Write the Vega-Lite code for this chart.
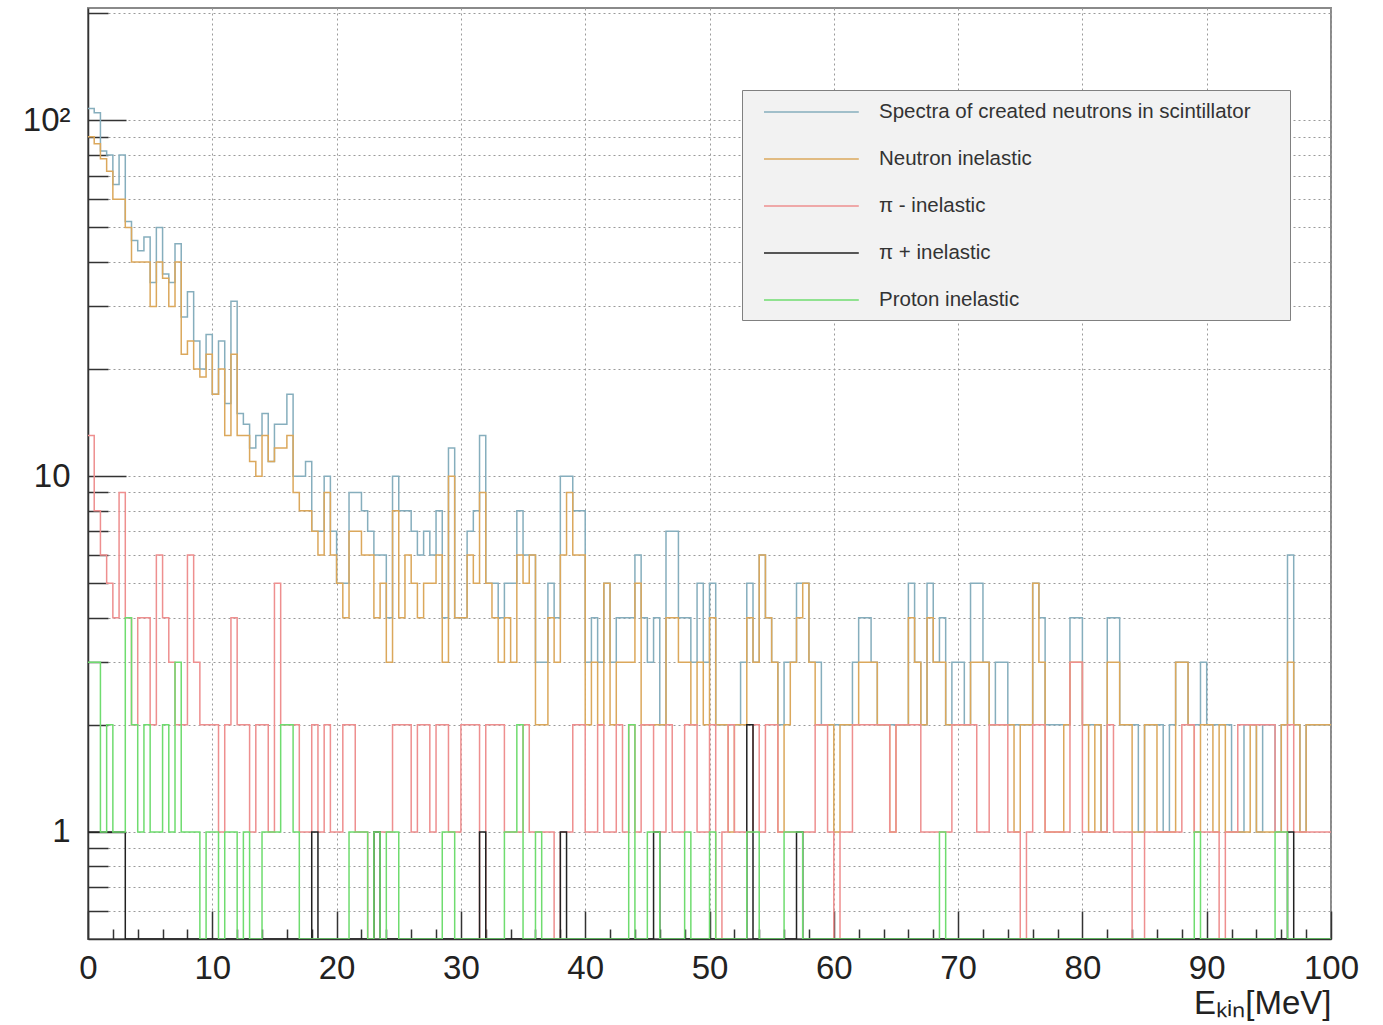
{
  "$schema": "https://vega.github.io/schema/vega-lite/v6.json",
  "autosize": "none",
  "width": 1243,
  "height": 931,
  "padding": {"left": 88, "top": 8, "right": 52, "bottom": 86},
  "background": "white",
  "config": {
    "view": {"stroke": "#8a8a8a", "strokeWidth": 2},
    "font": "Liberation Sans"
  },
  "data": {
    "values": [
      {"e":0,"t":108,"n":90,"r":13,"k":1,"g":3},
      {"e":0.5,"t":105,"n":86,"r":8,"k":1,"g":3},
      {"e":1,"t":82,"n":78,"r":6,"k":1,"g":1},
      {"e":1.5,"t":80,"n":72,"r":5,"k":1,"g":2},
      {"e":2,"t":66,"n":60,"r":4,"k":1,"g":1},
      {"e":2.5,"t":80,"n":60,"r":9,"k":1,"g":1},
      {"e":3,"t":52,"n":50,"r":4,"k":0,"g":4},
      {"e":3.5,"t":46,"n":40,"r":2,"k":0,"g":2},
      {"e":4,"t":43,"n":40,"r":4,"k":0,"g":1},
      {"e":4.5,"t":47,"n":40,"r":4,"k":0,"g":2},
      {"e":5,"t":35,"n":30,"r":2,"k":0,"g":1},
      {"e":5.5,"t":50,"n":40,"r":6,"k":0,"g":1},
      {"e":6,"t":37,"n":36,"r":4,"k":0,"g":2},
      {"e":6.5,"t":35,"n":30,"r":3,"k":0,"g":1},
      {"e":7,"t":45,"n":40,"r":2,"k":0,"g":3},
      {"e":7.5,"t":28,"n":22,"r":2,"k":0,"g":1},
      {"e":8,"t":33,"n":24,"r":6,"k":0,"g":1},
      {"e":8.5,"t":24,"n":20,"r":3,"k":0,"g":1},
      {"e":9,"t":20,"n":19,"r":2,"k":0,"g":0},
      {"e":9.5,"t":25,"n":22,"r":2,"k":0,"g":1},
      {"e":10,"t":17,"n":17,"r":2,"k":0,"g":1},
      {"e":10.5,"t":24,"n":20,"r":1,"k":0,"g":0},
      {"e":11,"t":16,"n":13,"r":2,"k":0,"g":1},
      {"e":11.5,"t":31,"n":22,"r":4,"k":0,"g":1},
      {"e":12,"t":15,"n":13,"r":2,"k":0,"g":0},
      {"e":12.5,"t":14,"n":13,"r":2,"k":0,"g":1},
      {"e":13,"t":12,"n":11,"r":1,"k":0,"g":0},
      {"e":13.5,"t":13,"n":10,"r":2,"k":0,"g":0},
      {"e":14,"t":15,"n":13,"r":2,"k":0,"g":1},
      {"e":14.5,"t":11,"n":11,"r":1,"k":0,"g":1},
      {"e":15,"t":14,"n":12,"r":5,"k":0,"g":1},
      {"e":15.5,"t":14,"n":12,"r":2,"k":0,"g":2},
      {"e":16,"t":17,"n":13,"r":2,"k":0,"g":2},
      {"e":16.5,"t":10,"n":9,"r":2,"k":0,"g":1},
      {"e":17,"t":10,"n":8,"r":1,"k":0,"g":0},
      {"e":17.5,"t":11,"n":8,"r":1,"k":0,"g":0},
      {"e":18,"t":7,"n":7,"r":2,"k":1,"g":0},
      {"e":18.5,"t":7,"n":6,"r":1,"k":0,"g":0},
      {"e":19,"t":10,"n":9,"r":2,"k":0,"g":0},
      {"e":19.5,"t":7,"n":6,"r":1,"k":0,"g":0},
      {"e":20,"t":5,"n":5,"r":1,"k":0,"g":0},
      {"e":20.5,"t":5,"n":4,"r":2,"k":0,"g":0},
      {"e":21,"t":9,"n":7,"r":2,"k":0,"g":1},
      {"e":21.5,"t":9,"n":7,"r":1,"k":0,"g":1},
      {"e":22,"t":8,"n":6,"r":1,"k":0,"g":1},
      {"e":22.5,"t":7,"n":6,"r":0,"k":0,"g":0},
      {"e":23,"t":6,"n":4,"r":1,"k":1,"g":1},
      {"e":23.5,"t":6,"n":5,"r":1,"k":0,"g":0},
      {"e":24,"t":4,"n":3,"r":1,"k":0,"g":1},
      {"e":24.5,"t":10,"n":8,"r":2,"k":0,"g":1},
      {"e":25,"t":8,"n":4,"r":2,"k":0,"g":0},
      {"e":25.5,"t":8,"n":6,"r":2,"k":0,"g":0},
      {"e":26,"t":7,"n":5,"r":1,"k":0,"g":0},
      {"e":26.5,"t":6,"n":4,"r":2,"k":0,"g":0},
      {"e":27,"t":7,"n":5,"r":2,"k":0,"g":0},
      {"e":27.5,"t":6,"n":5,"r":1,"k":0,"g":0},
      {"e":28,"t":8,"n":6,"r":2,"k":0,"g":0},
      {"e":28.5,"t":4,"n":3,"r":2,"k":0,"g":1},
      {"e":29,"t":12,"n":10,"r":1,"k":0,"g":1},
      {"e":29.5,"t":4,"n":4,"r":1,"k":0,"g":0},
      {"e":30,"t":4,"n":4,"r":2,"k":0,"g":0},
      {"e":30.5,"t":7,"n":6,"r":2,"k":0,"g":0},
      {"e":31,"t":8,"n":5,"r":2,"k":0,"g":0},
      {"e":31.5,"t":13,"n":9,"r":0,"k":1,"g":0},
      {"e":32,"t":5,"n":5,"r":2,"k":0,"g":0},
      {"e":32.5,"t":5,"n":4,"r":2,"k":0,"g":0},
      {"e":33,"t":4,"n":3,"r":2,"k":0,"g":0},
      {"e":33.5,"t":5,"n":4,"r":1,"k":0,"g":1},
      {"e":34,"t":5,"n":3,"r":1,"k":0,"g":1},
      {"e":34.5,"t":8,"n":6,"r":1,"k":0,"g":2},
      {"e":35,"t":6,"n":5,"r":2,"k":0,"g":0},
      {"e":35.5,"t":6,"n":6,"r":1,"k":0,"g":0},
      {"e":36,"t":3,"n":2,"r":1,"k":0,"g":1},
      {"e":36.5,"t":3,"n":2,"r":1,"k":0,"g":0},
      {"e":37,"t":5,"n":4,"r":1,"k":0,"g":0},
      {"e":37.5,"t":4,"n":3,"r":0,"k":0,"g":0},
      {"e":38,"t":10,"n":6,"r":1,"k":1,"g":0},
      {"e":38.5,"t":10,"n":9,"r":1,"k":0,"g":0},
      {"e":39,"t":8,"n":6,"r":2,"k":0,"g":0},
      {"e":39.5,"t":8,"n":6,"r":2,"k":0,"g":0},
      {"e":40,"t":3,"n":2,"r":1,"k":0,"g":0},
      {"e":40.5,"t":4,"n":3,"r":1,"k":0,"g":0},
      {"e":41,"t":3,"n":2,"r":2,"k":0,"g":0},
      {"e":41.5,"t":5,"n":5,"r":1,"k":0,"g":0},
      {"e":42,"t":3,"n":2,"r":1,"k":0,"g":0},
      {"e":42.5,"t":4,"n":3,"r":2,"k":0,"g":0},
      {"e":43,"t":4,"n":3,"r":1,"k":0,"g":0},
      {"e":43.5,"t":4,"n":3,"r":2,"k":0,"g":2},
      {"e":44,"t":6,"n":5,"r":1,"k":0,"g":0},
      {"e":44.5,"t":4,"n":2,"r":2,"k":0,"g":0},
      {"e":45,"t":3,"n":2,"r":2,"k":0,"g":1},
      {"e":45.5,"t":4,"n":2,"r":1,"k":1,"g":1},
      {"e":46,"t":2,"n":2,"r":1,"k":0,"g":0},
      {"e":46.5,"t":7,"n":4,"r":2,"k":0,"g":0},
      {"e":47,"t":7,"n":4,"r":1,"k":0,"g":0},
      {"e":47.5,"t":4,"n":3,"r":1,"k":0,"g":0},
      {"e":48,"t":4,"n":3,"r":2,"k":0,"g":1},
      {"e":48.5,"t":3,"n":2,"r":2,"k":0,"g":0},
      {"e":49,"t":5,"n":3,"r":1,"k":0,"g":0},
      {"e":49.5,"t":3,"n":2,"r":1,"k":0,"g":0},
      {"e":50,"t":5,"n":4,"r":2,"k":0,"g":1},
      {"e":50.5,"t":2,"n":2,"r":0,"k":0,"g":0},
      {"e":51,"t":2,"n":2,"r":1,"k":0,"g":0},
      {"e":51.5,"t":2,"n":1,"r":2,"k":0,"g":0},
      {"e":52,"t":2,"n":2,"r":1,"k":0,"g":0},
      {"e":52.5,"t":3,"n":2,"r":1,"k":0,"g":0},
      {"e":53,"t":5,"n":4,"r":1,"k":2,"g":1},
      {"e":53.5,"t":3,"n":3,"r":2,"k":0,"g":1},
      {"e":54,"t":6,"n":6,"r":1,"k":0,"g":0},
      {"e":54.5,"t":4,"n":4,"r":2,"k":0,"g":0},
      {"e":55,"t":3,"n":3,"r":2,"k":0,"g":0},
      {"e":55.5,"t":2,"n":1,"r":1,"k":0,"g":0},
      {"e":56,"t":3,"n":2,"r":1,"k":0,"g":1},
      {"e":56.5,"t":3,"n":3,"r":1,"k":0,"g":1},
      {"e":57,"t":5,"n":4,"r":1,"k":1,"g":1},
      {"e":57.5,"t":5,"n":5,"r":1,"k":0,"g":0},
      {"e":58,"t":3,"n":3,"r":1,"k":0,"g":0},
      {"e":58.5,"t":3,"n":2,"r":2,"k":0,"g":0},
      {"e":59,"t":2,"n":2,"r":2,"k":0,"g":0},
      {"e":59.5,"t":2,"n":2,"r":1,"k":0,"g":0},
      {"e":60,"t":2,"n":1,"r":0,"k":0,"g":0},
      {"e":60.5,"t":2,"n":2,"r":1,"k":0,"g":0},
      {"e":61,"t":2,"n":2,"r":1,"k":0,"g":0},
      {"e":61.5,"t":3,"n":2,"r":2,"k":0,"g":0},
      {"e":62,"t":4,"n":3,"r":2,"k":0,"g":0},
      {"e":62.5,"t":4,"n":3,"r":2,"k":0,"g":0},
      {"e":63,"t":3,"n":3,"r":2,"k":0,"g":0},
      {"e":63.5,"t":2,"n":2,"r":2,"k":0,"g":0},
      {"e":64,"t":2,"n":2,"r":2,"k":0,"g":0},
      {"e":64.5,"t":2,"n":1,"r":1,"k":0,"g":0},
      {"e":65,"t":2,"n":2,"r":2,"k":0,"g":0},
      {"e":65.5,"t":2,"n":2,"r":2,"k":0,"g":0},
      {"e":66,"t":5,"n":4,"r":2,"k":0,"g":0},
      {"e":66.5,"t":3,"n":3,"r":2,"k":0,"g":0},
      {"e":67,"t":2,"n":2,"r":1,"k":0,"g":0},
      {"e":67.5,"t":5,"n":4,"r":1,"k":0,"g":0},
      {"e":68,"t":3,"n":3,"r":1,"k":0,"g":0},
      {"e":68.5,"t":4,"n":3,"r":1,"k":0,"g":1},
      {"e":69,"t":2,"n":2,"r":1,"k":0,"g":0},
      {"e":69.5,"t":3,"n":2,"r":2,"k":0,"g":0},
      {"e":70,"t":3,"n":2,"r":2,"k":0,"g":0},
      {"e":70.5,"t":2,"n":2,"r":2,"k":0,"g":0},
      {"e":71,"t":5,"n":3,"r":2,"k":0,"g":0},
      {"e":71.5,"t":5,"n":3,"r":1,"k":0,"g":0},
      {"e":72,"t":3,"n":3,"r":1,"k":0,"g":0},
      {"e":72.5,"t":2,"n":2,"r":2,"k":0,"g":0},
      {"e":73,"t":3,"n":2,"r":2,"k":0,"g":0},
      {"e":73.5,"t":3,"n":2,"r":2,"k":0,"g":0},
      {"e":74,"t":2,"n":2,"r":1,"k":0,"g":0},
      {"e":74.5,"t":2,"n":1,"r":1,"k":0,"g":0},
      {"e":75,"t":2,"n":2,"r":0,"k":0,"g":0},
      {"e":75.5,"t":2,"n":2,"r":1,"k":0,"g":0},
      {"e":76,"t":5,"n":5,"r":2,"k":0,"g":0},
      {"e":76.5,"t":4,"n":3,"r":2,"k":0,"g":0},
      {"e":77,"t":2,"n":1,"r":1,"k":0,"g":0},
      {"e":77.5,"t":2,"n":1,"r":1,"k":0,"g":0},
      {"e":78,"t":2,"n":1,"r":1,"k":0,"g":0},
      {"e":78.5,"t":2,"n":2,"r":1,"k":0,"g":0},
      {"e":79,"t":4,"n":3,"r":3,"k":0,"g":0},
      {"e":79.5,"t":4,"n":3,"r":3,"k":0,"g":0},
      {"e":80,"t":2,"n":2,"r":1,"k":0,"g":0},
      {"e":80.5,"t":2,"n":1,"r":1,"k":0,"g":0},
      {"e":81,"t":2,"n":2,"r":1,"k":0,"g":0},
      {"e":81.5,"t":1,"n":1,"r":1,"k":0,"g":0},
      {"e":82,"t":4,"n":3,"r":2,"k":0,"g":0},
      {"e":82.5,"t":4,"n":3,"r":1,"k":0,"g":0},
      {"e":83,"t":2,"n":2,"r":1,"k":0,"g":0},
      {"e":83.5,"t":2,"n":2,"r":1,"k":0,"g":0},
      {"e":84,"t":2,"n":1,"r":0,"k":0,"g":0},
      {"e":84.5,"t":1,"n":1,"r":0,"k":0,"g":0},
      {"e":85,"t":2,"n":2,"r":1,"k":0,"g":0},
      {"e":85.5,"t":2,"n":2,"r":1,"k":0,"g":0},
      {"e":86,"t":2,"n":1,"r":1,"k":0,"g":0},
      {"e":86.5,"t":1,"n":1,"r":1,"k":0,"g":0},
      {"e":87,"t":2,"n":1,"r":1,"k":0,"g":0},
      {"e":87.5,"t":3,"n":3,"r":1,"k":0,"g":0},
      {"e":88,"t":3,"n":3,"r":2,"k":0,"g":0},
      {"e":88.5,"t":2,"n":2,"r":2,"k":0,"g":0},
      {"e":89,"t":2,"n":1,"r":1,"k":0,"g":1},
      {"e":89.5,"t":3,"n":2,"r":1,"k":0,"g":0},
      {"e":90,"t":2,"n":2,"r":1,"k":0,"g":0},
      {"e":90.5,"t":2,"n":1,"r":1,"k":0,"g":0},
      {"e":91,"t":2,"n":2,"r":0,"k":0,"g":0},
      {"e":91.5,"t":2,"n":1,"r":1,"k":0,"g":0},
      {"e":92,"t":1,"n":1,"r":1,"k":0,"g":0},
      {"e":92.5,"t":1,"n":1,"r":2,"k":0,"g":0},
      {"e":93,"t":2,"n":1,"r":2,"k":0,"g":0},
      {"e":93.5,"t":2,"n":2,"r":2,"k":0,"g":0},
      {"e":94,"t":1,"n":1,"r":2,"k":0,"g":0},
      {"e":94.5,"t":2,"n":1,"r":2,"k":0,"g":0},
      {"e":95,"t":2,"n":1,"r":2,"k":0,"g":0},
      {"e":95.5,"t":1,"n":1,"r":1,"k":0,"g":1},
      {"e":96,"t":2,"n":2,"r":1,"k":0,"g":1},
      {"e":96.5,"t":6,"n":3,"r":2,"k":1,"g":0},
      {"e":97,"t":2,"n":2,"r":1,"k":0,"g":0},
      {"e":97.5,"t":1,"n":1,"r":1,"k":0,"g":0},
      {"e":98,"t":2,"n":2,"r":1,"k":0,"g":0},
      {"e":98.5,"t":2,"n":2,"r":1,"k":0,"g":0},
      {"e":99,"t":2,"n":2,"r":1,"k":0,"g":0},
      {"e":99.5,"t":2,"n":2,"r":1,"k":0,"g":0},
      {"e":100,"t":2,"n":2,"r":1,"k":0,"g":0}
    ]
  },
  "transform": [
    {"fold": ["t", "n", "r", "k", "g"], "as": ["s", "v"]}
  ],
  "mark": {"type": "line", "interpolate": "step-after", "strokeWidth": 1.5, "invalid": null, "clip": true},
  "encoding": {
    "x": {
      "field": "e", "type": "quantitative",
      "scale": {"domain": [0, 100], "nice": false, "zero": false},
      "axis": {
        "values": [0,2,4,6,8,10,12,14,16,18,20,22,24,26,28,30,32,34,36,38,40,42,44,46,48,50,52,54,56,58,60,62,64,66,68,70,72,74,76,78,80,82,84,86,88,90,92,94,96,98,100],
        "format": "d",
        "labelExpr": "datum.value % 10 === 0 ? datum.label : ''",
        "tickSize": {"condition": {"test": "datum.value % 10 === 0", "value": -28}, "value": -10},
        "tickColor": "#333333",
        "tickWidth": 1.5,
        "labelPadding": 41,
        "labelFontSize": 33,
        "labelFont": "Liberation Sans",
        "labelColor": "#222222",
        "labelOverlap": false,
        "labelFlush": false,
        "grid": true,
        "gridColor": "#9a9a9a",
        "gridDash": [2, 3],
        "gridWidth": 1,
        "gridOpacity": {"condition": {"test": "datum.value % 10 === 0", "value": 1}, "value": 0},
        "domainColor": "#333333",
        "domainWidth": 1.5,
        "title": "Eₖᵢₙ[MeV]",
        "titleAnchor": "end",
        "titleFont": "Liberation Sans",
        "titleFontSize": 33,
        "titleFontWeight": "normal",
        "titleColor": "#222222",
        "titlePadding": -16
      }
    },
    "y": {
      "field": "v", "type": "quantitative",
      "scale": {"type": "log", "domain": [0.5, 207], "nice": false, "clamp": true},
      "axis": {
        "values": [0.6,0.7,0.8,0.9,1,2,3,4,5,6,7,8,9,10,20,30,40,50,60,70,80,90,100,200],
        "labelExpr": "datum.value === 1 ? '1' : datum.value === 10 ? '10' : datum.value === 100 ? '10²' : ''",
        "tickSize": {"condition": {"test": "datum.value === 1 || datum.value === 10 || datum.value === 100", "value": -38}, "value": -20},
        "tickColor": "#333333",
        "tickWidth": 1.5,
        "labelPadding": 56,
        "labelFontSize": 33,
        "labelFont": "Liberation Sans",
        "labelColor": "#222222",
        "labelOverlap": false,
        "labelFlush": false,
        "grid": true,
        "gridColor": "#9a9a9a",
        "gridDash": [2, 3],
        "gridWidth": 1,
        "domainColor": "#333333",
        "domainWidth": 1.5,
        "title": null
      }
    },
    "color": {
      "field": "s", "type": "nominal",
      "scale": {"domain": ["t", "n", "r", "k", "g"], "range": ["#86aebd", "#dba85c", "#ee8f8f", "#222222", "#6fdc6f"]},
      "legend": {
        "orient": "none",
        "legendX": 654,
        "legendY": 82,
        "title": null,
        "labelExpr": "datum.value === 't' ? 'Spectra of created neutrons in scintillator\u2800\u2800' : datum.value === 'n' ? 'Neutron inelastic' : datum.value === 'r' ? 'π - inelastic' : datum.value === 'k' ? 'π + inelastic' : 'Proton inelastic'",
        "symbolType": "M0,0H7.9",
        "symbolSize": 576,
        "symbolStrokeWidth": 1.5,
        "labelFont": "Liberation Sans",
        "labelFontSize": 20.5,
        "labelColor": "#333333",
        "labelOffset": 102,
        "labelLimit": 700,
        "rowPadding": 23,
        "padding": 9,
        "fillColor": "#f2f2f2",
        "strokeColor": "#808080"
      }
    }
  }
}
